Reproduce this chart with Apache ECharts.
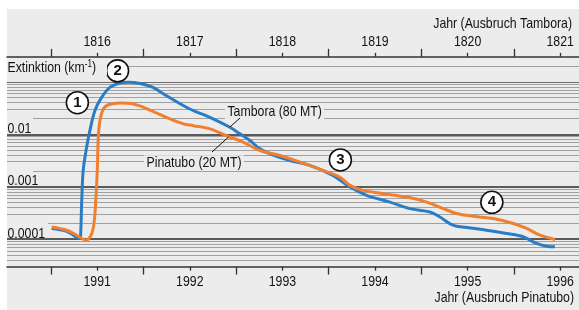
<!DOCTYPE html>
<html><head><meta charset="utf-8">
<script src="https://cdn.jsdelivr.net/npm/echarts@6/dist/echarts.min.js"></script>
<style>html,body{margin:0;padding:0;background:#fff;}#c{width:579px;height:310px;}</style>
</head><body><div id="c"></div>
<script>
// ---- data ----
const tamboraYears = [1816, 1817, 1818, 1819, 1820, 1821];
const pinatuboYears = [1991, 1992, 1993, 1994, 1995, 1996];
const yTickValues = [0.01, 0.001, 0.0001];
const yTickLabels = ['0.01', '0.001', '0.0001'];
const seriesNames = ['Tambora (80 MT)', 'Pinatubo (20 MT)'];

// Tambora: year (top axis) / extinction km^-1
const tamboraX = [1815.508, 1815.662, 1815.813, 1815.822, 1815.832, 1815.849, 1815.886, 1815.921, 1815.975, 1816.048, 1816.137, 1816.245, 1816.332, 1816.461, 1816.602, 1816.749, 1817.001, 1817.217, 1817.433, 1817.541, 1817.649, 1817.757, 1817.865, 1818.081, 1818.297, 1818.545, 1818.729, 1818.909, 1819.161, 1819.377, 1819.593, 1819.701, 1819.841, 1819.989, 1820.205, 1820.421, 1820.600, 1820.745, 1820.853, 1820.943];
const tamboraY = [0.00016, 0.000142, 0.000103, 0.00013, 0.000483, 0.00205, 0.00566, 0.01175, 0.0282, 0.0505, 0.0782, 0.0947, 0.098, 0.093, 0.078, 0.0543, 0.0303, 0.0210, 0.0136, 0.0102, 0.00759, 0.00528, 0.00425, 0.00316, 0.00255, 0.00164, 0.000985, 0.000686, 0.000510, 0.000383, 0.00033, 0.000265, 0.000185, 0.000167, 0.000148, 0.000128, 0.000111, 0.0000828, 0.0000736, 0.0000715];

// Pinatubo: year (bottom axis) / extinction km^-1
const pinatuboX = [1990.509, 1990.671, 1990.779, 1990.879, 1990.941, 1990.969, 1990.987, 1991.001, 1991.012, 1991.030, 1991.066, 1991.120, 1991.246, 1991.390, 1991.570, 1991.786, 1991.930, 1992.038, 1992.218, 1992.434, 1992.542, 1992.758, 1992.974, 1993.190, 1993.438, 1993.622, 1993.730, 1993.874, 1994.090, 1994.342, 1994.558, 1994.738, 1994.882, 1995.062, 1995.278, 1995.494, 1995.638, 1995.782, 1995.944];
const pinatuboY = [0.000171, 0.000148, 0.000119, 0.0000957, 0.000128, 0.00023, 0.000635, 0.00205, 0.00877, 0.0182, 0.0303, 0.0366, 0.0394, 0.0378, 0.029, 0.0196, 0.0158, 0.0146, 0.0127, 0.00877, 0.00759, 0.0049, 0.00394, 0.00294, 0.00205, 0.00152, 0.00106, 0.000853, 0.000738, 0.000635, 0.00051, 0.000383, 0.000308, 0.000273, 0.000247, 0.000199, 0.00016, 0.000119, 0.0000986];

// numbered annotations (Tambora time axis)
const markerLabels = ['1', '2', '3', '4'];
const markerX = [1815.786, 1816.220, 1818.626, 1820.262];
const markerY = [0.040, 0.162, 0.00324, 0.000505];

// ---- styles ----
const FF = "'Liberation Sans', Arial, sans-serif";
const FONT = "15px " + FF;
const SX = 0.82; // condensed look
const BLUE = '#2a7dc5', ORANGE = '#f07f30', BG = '#ececec', TXT = '#121212';

const gridMajor = [0.1, 0.01, 0.001, 0.0001];
const gridMinor = [];
for (let e = -5; e <= -1; e++) {
  for (let m = 2; m <= 9; m++) {
    const v = +(m * Math.pow(10, e)).toPrecision(3);
    if (v > 0.000031 && v < 0.29) gridMinor.push(v);
  }
}
const gridLines = gridMinor.map(v => ({ yAxis: v, lineStyle: { color: '#a0a0a0', width: 1, type: 'solid' } }))
  .concat(gridMajor.map(v => ({ yAxis: v, lineStyle: { color: v === 0.1 ? '#6a6a6a' : '#2a2a2a', width: v === 0.1 ? 1 : 1.5, type: 'solid' } })));

function xAxisPair(pos, years, min, max) {
  const half = years.map(y => y - 0.5);
  return [{
    type: 'value', position: pos, min: min, max: max,
    axisLine: { show: true, lineStyle: { color: '#333', width: 1.5 } },
    axisTick: { show: true, customValues: years, length: 4, inside: false, lineStyle: { color: '#333', width: 1.3 } },
    axisLabel: { show: false },
    splitLine: { show: false }
  }, {
    type: 'value', position: pos, min: min, max: max,
    axisLine: { show: false },
    axisTick: { show: true, customValues: half, length: 8, inside: false, lineStyle: { color: '#333', width: 1.3 } },
    axisLabel: { show: false },
    splitLine: { show: false }
  }];
}

const chart = echarts.init(document.getElementById('c'), null, { renderer: 'canvas' });
chart.setOption({
  animation: false,
  backgroundColor: '#fff',
  grid: { left: 7, right: 0, top: 56.8, bottom: 43.4, containLabel: false },
  xAxis: xAxisPair('bottom', pinatuboYears, 1990.026, 1996.203)
    .concat(xAxisPair('top', tamboraYears, 1815.026, 1821.203)),
  yAxis: { type: 'log', logBase: 10, min: 0.00003, max: 0.3,
    axisLine: { show: false }, axisTick: { show: false }, axisLabel: { show: false }, splitLine: { show: false } },
  series: [
    { type: 'line', name: 'grid', xAxisIndex: 0, yAxisIndex: 0, data: [], z: 1, silent: true,
      markLine: { z: 1, silent: true, precision: 12, symbol: ['none', 'none'], label: { show: false }, animation: false,
        emphasis: { disabled: true }, data: gridLines } },
    { type: 'line', name: seriesNames[0], xAxisIndex: 2, yAxisIndex: 0, z: 3,
      data: tamboraX.map((x, i) => [x, tamboraY[i]]),
      symbol: 'none', smooth: 0.35,
      lineStyle: { color: BLUE, width: 3 },
      markPoint: { z: 6, symbol: 'circle', symbolSize: 22,
        itemStyle: { color: '#fff', borderColor: '#111', borderWidth: 1.6 },
        label: { show: true, position: 'inside', formatter: p => p.name, fontFamily: FF, fontSize: 15, fontWeight: 'bold', color: '#111' },
        data: markerLabels.map((m, i) => ({ name: m, coord: [markerX[i], markerY[i]] })) } },
    { type: 'line', name: seriesNames[1], xAxisIndex: 0, yAxisIndex: 0, z: 4,
      data: pinatuboX.map((x, i) => [x, pinatuboY[i]]),
      symbol: 'none', smooth: 0.35,
      lineStyle: { color: ORANGE, width: 3 } }
  ]
});

function T(text, x, y, align, extra) {
  return { type: 'text', z: 50, x: x, y: y, scaleX: SX,
    style: Object.assign({ text: text, font: FONT, fill: TXT, align: align || 'left', verticalAlign: 'middle' }, extra || {}) };
}

const gfx = [
  { type: 'rect', z: -10, shape: { x: 7, y: 9, width: 572, height: 301 }, style: { fill: BG } },
  T('Jahr (Ausbruch Tambora)', 572, 23.5, 'right'),
  T('Jahr (Ausbruch Pinatubo)', 574, 298, 'right'),
  { type: 'rect', z: 49, shape: { x: 7, y: 58, width: 100, height: 17 }, style: { fill: BG } },
  { type: 'text', z: 50, x: 7.5, y: 67.5, scaleX: SX, style: {
      text: '{a|Extinktion (km}{s|-1}{a|)}', fill: TXT, verticalAlign: 'middle',
      rich: { a: { fontFamily: FF, fontSize: 15, fill: TXT }, s: { fontFamily: FF, fontSize: 10, fill: TXT, padding: [0, 0, 7, 0] } } } }
];
// x tick labels
tamboraYears.forEach(y => {
  const px = chart.convertToPixel({ xAxisIndex: 2 }, y);
  gfx.push(T(String(y), px, 41.7, 'center'));
});
pinatuboYears.forEach(y => {
  const px = chart.convertToPixel({ xAxisIndex: 0 }, y);
  gfx.push(T(String(y), px, 282, 'center'));
});
// y tick labels
const maskW = [26, 26, 41];
yTickValues.forEach((v, i) => {
  const py = chart.convertToPixel({ yAxisIndex: 0 }, v);
  gfx.push({ type: 'rect', z: 49, shape: { x: 7, y: py - 18, width: maskW[i], height: 16.5 }, style: { fill: BG } });
  gfx.push(T(yTickLabels[i], 7.5, py - 5.5, 'left'));
});
gfx.push(
  T(seriesNames[0], 225, 111.7, 'left', { backgroundColor: BG, padding: [0, 3, 0, 3] }),
  T(seriesNames[1], 144, 162.7, 'left', { backgroundColor: BG, padding: [0, 3, 0, 3] }),
  { type: 'polyline', z: 50, shape: { points: [[230, 127], [240, 118]] }, style: { stroke: '#111', lineWidth: 1 } },
  { type: 'polyline', z: 50, shape: { points: [[212, 152], [228.5, 137]] }, style: { stroke: '#111', lineWidth: 1 } }
);
chart.setOption({ graphic: { elements: gfx } });
</script></body></html>
